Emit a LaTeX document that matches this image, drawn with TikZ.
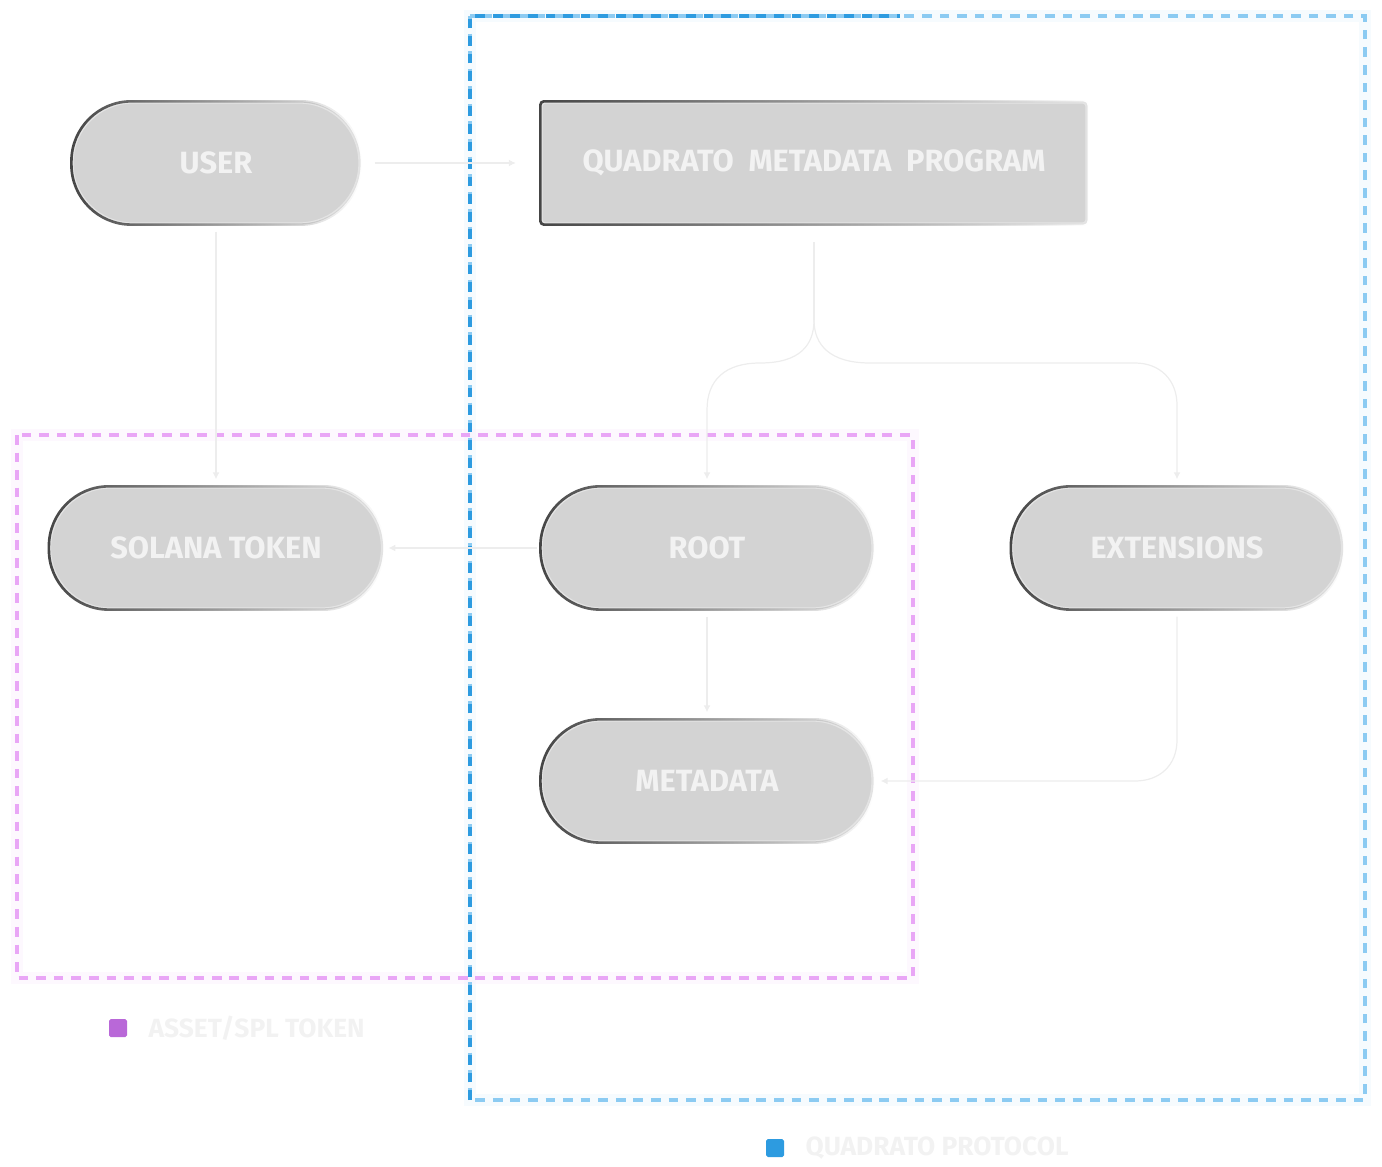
\documentclass[tikz,border=0pt]{standalone}
\usepackage{fontspec}
\setsansfont{Fira Sans}
\usetikzlibrary{arrows.meta,positioning,fadings}
\definecolor{nodegray}{HTML}{D3D3D3}
\definecolor{edgedark}{HTML}{454545}
\definecolor{edgelight}{HTML}{E4E4E4}
\definecolor{linkgray}{HTML}{EDEDED}
\definecolor{textwhite}{HTML}{F2F2F2}
\definecolor{protoblue}{HTML}{2D9BE0}
\definecolor{protolight}{HTML}{8CCBF2}
\definecolor{assetpink}{HTML}{E9A6F6}
\definecolor{assetpurple}{HTML}{B968D8}
\tikzset{
  px/.style={x=0.02cm,y=-0.02cm},
  pill/.style={rounded corners=1.2cm, fill=nodegray, draw=edgelight, line width=1.3pt,
    minimum height=2.42cm, text=textwhite, font=\sffamily\bfseries\fontsize{17.5}{20}\selectfont},
  block/.style={pill, rounded corners=2pt},
  link/.style={draw=linkgray, line width=0.7pt, -{Latex[length=4pt,width=4pt]}},
  group/.style={dash pattern=on 5.5pt off 4.5pt, line width=1.8pt},
  glow/.style={line width=7pt, opacity=0.35},
  legend/.style={text=textwhite, font=\sffamily\bfseries\fontsize{15}{18}\selectfont, anchor=west},
}
\newcommand{\darkrim}[1]{%
  \draw[edgedark, line width=1.5pt, rounded corners=1.2cm, path fading=east]
    (#1.south west) rectangle (#1.north east);}
\begin{document}
\begin{tikzpicture}[px]
  \useasboundingbox (0,0) rectangle (1382,1166);
  % groups
  \draw[glow, draw=protoblue!12] (470,16) rectangle (1365,1100);
  \draw[glow, draw=assetpink!22] (17,435) rectangle (913,978);
  \draw[group, draw=protolight] (470,16) rectangle (1365,1100);
  \draw[group, draw=protoblue] (470,1100) -- (470,16) -- (900,16);
  \draw[group, draw=assetpink] (17,435) rectangle (913,978);
  % nodes
  \node[pill, minimum width=5.74cm] (user) at (216,163) {USER};
  \node[block, minimum width=10.9cm] (program) at (814,163) {QUADRATO\ \ METADATA\ \ PROGRAM};
  \node[pill, minimum width=6.64cm] (solana) at (216,548) {SOLANA TOKEN};
  \node[pill, minimum width=6.62cm] (root) at (707,548) {ROOT};
  \node[pill, minimum width=6.6cm] (ext) at (1177,548) {EXTENSIONS};
  \node[pill, minimum width=6.62cm] (meta) at (707,781) {METADATA};
  \darkrim{user} \darkrim{solana} \darkrim{root} \darkrim{ext} \darkrim{meta}
  \draw[edgedark, line width=1.5pt, rounded corners=2pt, path fading=east]
    (program.south west) rectangle (program.north east);
  % connectors
  \coordinate (split) at (814,320);
  \draw[link] ([xshift=8pt]user.east) -- ([xshift=-14pt]program.west);
  \draw[link] ([yshift=-4pt]user.south) -- ([yshift=4pt]solana.north);
  \draw[link] ([xshift=-2pt]root.west) -- ([xshift=3pt]solana.east);
  \draw[link] ([yshift=-4pt]root.south) -- ([yshift=4pt]meta.north);
  \draw[draw=linkgray, line width=0.7pt] ([yshift=-10pt]program.south) -- (split);
  \draw[link] (split) .. controls (814,345) and (800,363) .. (760,363)
    .. controls (725,363) and (707,380) .. (707,410) -- ([yshift=4pt]root.north);
  \draw[link] (split) .. controls (814,345) and (830,363) .. (870,363) -- (1135,363)
    .. controls (1160,363) and (1177,380) .. (1177,405) -- ([yshift=4pt]ext.north);
  \draw[link] ([yshift=-4pt]ext.south) -- (1177,740)
    .. controls (1177,765) and (1160,781) .. (1135,781) -- ([xshift=4pt]meta.east);
  % legend
  \node[fill=assetpurple, minimum size=0.36cm, inner sep=0pt, rounded corners=1pt] (assetkey) at (118,1028) {};
  \node[legend, right=0.3cm of assetkey] (assetlabel) {ASSET/SPL TOKEN};
  \node[fill=protoblue, minimum size=0.36cm, inner sep=0pt, rounded corners=1pt] (protokey) at (775,1148) {};
  \node[legend, right=0.3cm of protokey] (protolabel) {QUADRATO PROTOCOL};
\end{tikzpicture}
\end{document}
